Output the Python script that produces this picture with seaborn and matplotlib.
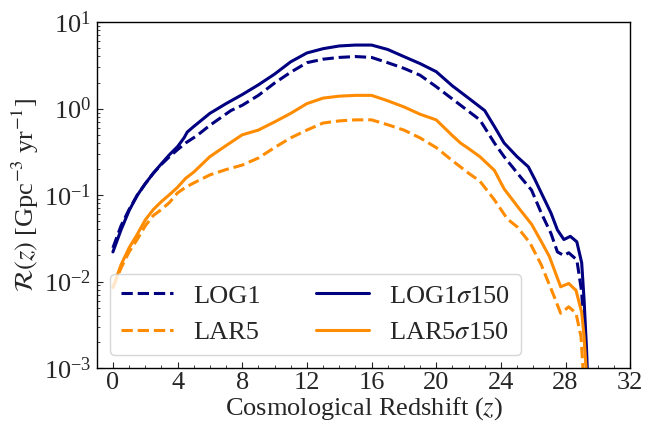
import numpy as np
import pandas as pd
import matplotlib
matplotlib.use("Agg")
import matplotlib.pyplot as plt
from matplotlib.ticker import MultipleLocator
import seaborn as sns

# ---- data ----
z_log1 = [0.0, 0.5, 1.0, 1.5, 2.0, 2.5, 3.0, 3.5, 4.0, 4.5, 5.2, 6.0, 7.3, 8.0, 9.0, 10.0,
          11.0, 12.0, 13.0, 14.0, 15.0, 16.0, 17.0, 18.0, 19.0, 20.0, 21.0, 22.0, 22.7,
          23.6, 24.2, 25.2, 25.9, 26.5, 27.1, 27.5, 27.9, 28.2, 28.7, 29.0, 29.1, 29.3, 29.4]
r_log1 = [0.0245, 0.044, 0.068, 0.099, 0.135, 0.179, 0.226, 0.278, 0.335, 0.40, 0.487,
          0.64, 0.948, 1.09, 1.42, 1.97, 2.63, 3.39, 3.72, 3.9, 3.99, 3.9, 3.39, 2.92, 2.43,
          1.79, 1.29, 0.93, 0.74, 0.40, 0.278, 0.163, 0.114, 0.062, 0.036, 0.022, 0.020,
          0.0215, 0.0178, 0.0076, 0.0038, 0.00104, 0.0003]

z_lar5 = [0.0, 0.5, 1.0, 1.5, 2.0, 2.5, 3.0, 3.5, 4.0, 4.5, 5.0, 6.0, 7.0, 8.0, 9.0, 10.0,
          11.0, 12.0, 13.0, 14.0, 15.0, 16.0, 17.0, 18.0, 19.0, 20.0, 21.0, 22.0, 22.7,
          23.6, 24.4, 25.0, 25.8, 26.5, 27.3, 27.7, 28.2, 28.65, 28.96, 29.06, 29.2]
r_lar5 = [0.0085, 0.0143, 0.022, 0.0306, 0.044, 0.058, 0.068, 0.082, 0.106, 0.123, 0.138,
          0.171, 0.197, 0.222, 0.268, 0.354, 0.458, 0.564, 0.68, 0.72, 0.74, 0.74, 0.65,
          0.564, 0.458, 0.354, 0.25, 0.179, 0.145, 0.088, 0.053, 0.043, 0.028, 0.0156,
          0.0067, 0.0043, 0.0051, 0.0043, 0.0023, 0.00115, 0.0003]

z_log1s = [0.0, 0.5, 1.0, 1.5, 2.0, 2.5, 3.0, 3.5, 4.0, 4.4, 4.6, 5.0, 6.0, 7.0, 8.0, 9.0,
           10.0, 11.0, 12.0, 13.0, 14.0, 15.0, 16.0, 17.0, 18.0, 19.0, 20.0, 21.0, 22.0,
           23.0, 23.6, 24.2, 25.0, 25.7, 26.1, 26.5, 27.1, 27.5, 27.9, 28.3, 28.7, 29.0,
           29.15, 29.3, 29.45]
r_log1s = [0.022, 0.0395, 0.066, 0.099, 0.135, 0.179, 0.23, 0.293, 0.363, 0.458, 0.535,
           0.62, 0.88, 1.14, 1.45, 1.88, 2.5, 3.47, 4.39, 4.92, 5.29, 5.42, 5.42, 4.82,
           3.99, 3.31, 2.67, 1.83, 1.32, 0.948, 0.62, 0.40, 0.278, 0.212, 0.152, 0.106,
           0.062, 0.0395, 0.0306, 0.0333, 0.0288, 0.0165, 0.0061, 0.00166, 0.0003]

z_lar5s = [0.0, 0.5, 1.0, 1.5, 2.0, 2.5, 3.0, 3.5, 4.0, 4.5, 5.0, 6.0, 7.0, 8.0, 9.0, 10.0,
           11.0, 12.0, 13.0, 14.0, 15.0, 16.0, 17.0, 18.0, 19.0, 20.0, 21.0, 21.5, 22.0,
           22.7, 23.6, 24.2, 25.1, 25.9, 26.5, 27.0, 27.7, 28.2, 28.65, 29.0, 29.15, 29.3,
           29.4]
r_lar5s = [0.0085, 0.0156, 0.0245, 0.035, 0.0515, 0.068, 0.084, 0.101, 0.123, 0.156,
           0.184, 0.278, 0.373, 0.497, 0.564, 0.70, 0.88, 1.14, 1.32, 1.39, 1.42, 1.42,
           1.23, 1.045, 0.86, 0.74, 0.487, 0.40, 0.345, 0.278, 0.193, 0.118, 0.071, 0.046,
           0.029, 0.0195, 0.0087, 0.0095, 0.0079, 0.0044, 0.0023, 0.00083, 0.0003]

series = [
    ("LOG1", z_log1, r_log1, "navy", "--"),
    ("LAR5", z_lar5, r_lar5, "darkorange", "--"),
    (r"LOG1$\sigma$150", z_log1s, r_log1s, "navy", "-"),
    (r"LAR5$\sigma$150", z_lar5s, r_lar5s, "darkorange", "-"),
]

x_ticks = [0, 4, 8, 12, 16, 20, 24, 28, 32]

# ---- style ----
sns.set_style("white")
plt.rcParams["font.family"] = ["Liberation Serif", "DejaVu Serif"]
plt.rcParams["mathtext.fontset"] = "stix"

fig = plt.figure(figsize=(6.45, 4.24), dpi=100)
ax = fig.add_axes([0.150, 0.132, 0.827, 0.816])

for name, zz, rr, col, ls in series:
    df = pd.DataFrame({"z": zz, "R": rr})
    sns.lineplot(data=df, x="z", y="R", ax=ax, color=col, linestyle=ls,
                 linewidth=2.2, label=name)

ax.set_yscale("log")
ax.set_ylim(1e-3, 1e1)
ax.set_xlim(-1, 32)
ax.set_xticks(x_ticks)
ax.xaxis.set_minor_locator(MultipleLocator(1))
ax.tick_params(axis="both", which="both", direction="in", labelsize=19,
               bottom=True, left=True, top=False, right=False)
ax.tick_params(axis="y", which="major", length=4, width=0.8, pad=4)
ax.tick_params(axis="x", which="major", length=4, width=0.8, pad=3)
ax.tick_params(axis="both", which="minor", length=2, width=0.6)

for sp in ax.spines.values():
    sp.set_color("black")
    sp.set_linewidth(1.0)

ax.set_xlabel(r"Cosmological Redshift ($z$)", fontsize=19)
ax.xaxis.set_label_coords(0.5, -0.079)
ax.set_ylabel(r"$\mathcal{R}(z)$ [Gpc$^{-3}$ yr$^{-1}$]", fontsize=19, labelpad=2)

ax.legend(loc="lower left", ncol=2, fontsize=19,
          framealpha=0.8, handlelength=2.0, columnspacing=2.1, borderaxespad=0.5,
          handletextpad=0.76)

fig.savefig("out.png", dpi=100)
